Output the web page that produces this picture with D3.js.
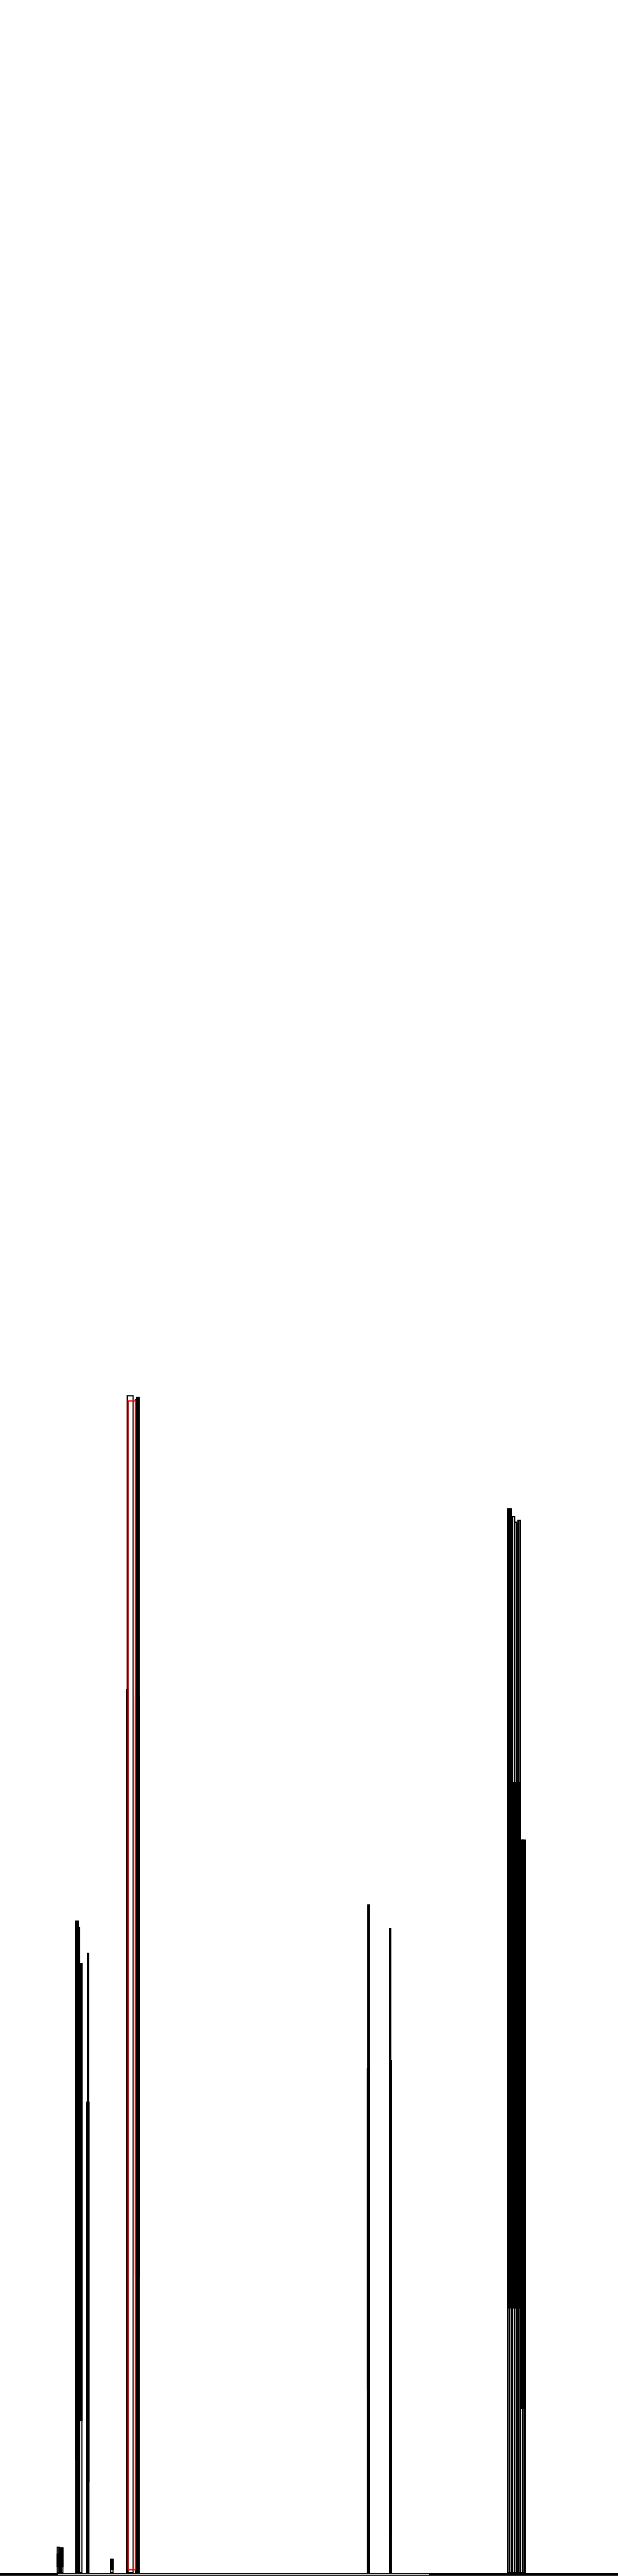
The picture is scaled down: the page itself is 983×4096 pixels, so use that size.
<!DOCTYPE html>
<html>
<head>
<meta charset="utf-8">
<script src="https://cdn.jsdelivr.net/npm/d3@7"></script>
<style>
html,body{margin:0;padding:0;background:#fff;}
svg{display:block;}
</style>
</head>
<body>
<script>
// ---- data (reference units) ----
const binStart = [133,142,177.5,182,186,204.5,202,258,297,295.5,315,319.5,857.5,855.5,908.2,907,1183,1187.5,1194,1198.5,1203,1207.5,1213,1218];
const binEnd   = [138,147,182,186,191,206.5,207,263,310,298,319,323.5,859.5,861,909.8,911,1187.5,1192,1198.5,1203,1207.5,1212,1218,1223];
const totals   = [59,58,1518,1503,1418,1443,1096,31,2742,2057,2733,2738,1555,1173,1500,1193,2478,2478,2461,2447,2444,2451,1707,1707];
const denseHi  = [43,58,1518,1423,1418,1443,1096,31,null,2057,2040,2040,1555,1173,1500,1193,2478,2478,1841,1841,1841,1841,1707,1707];
const denseLo  = [13,13,263,353,353,1096,212,6,null,0,690,690,1173,428,1193,93,616,616,616,616,616,616,382,382];

const highlightStart = [298.5];
const highlightEnd   = [315.5];
const highlightHi    = [2730];
const highlightLo    = [7];

const xDomain = [0,1440];
const yDomain = [0,5993];

// ---- layout ----
const W = 983, H = 4096, k = W/1440;
const SW = 3.2;
const svg = d3.select("body").append("svg").attr("width",W).attr("height",H);
svg.append("rect").attr("width",W).attr("height",H).attr("fill","#fff");

const x = d3.scaleLinear().domain(xDomain).range([0,W]);
const y = d3.scaleLinear().domain(yDomain).range([yDomain[1]*k,0]);

const bars = binStart.map((s,i)=>({s, e:binEnd[i], v:totals[i], hi:denseHi[i], lo:denseLo[i]}));

// outlines
svg.append("g").selectAll("rect").data(bars).join("rect")
  .attr("x",d=>x(d.s)).attr("width",d=>x(d.e)-x(d.s))
  .attr("y",d=>y(d.v)).attr("height",d=>y(0)-y(d.v))
  .attr("fill","none").attr("stroke","#000").attr("stroke-width",SW*k);

// dense (solid) segments
svg.append("g").selectAll("rect").data(bars.filter(d=>d.hi!==null)).join("rect")
  .attr("x",d=>x(d.s)-SW/2*k).attr("width",d=>x(d.e)-x(d.s)+SW*k)
  .attr("y",d=>y(d.hi)-SW/2*k).attr("height",d=>y(d.lo)-y(d.hi)+SW/2*k)
  .attr("fill","#000");

// highlighted bar
const hl = highlightStart.map((s,i)=>({s,e:highlightEnd[i],hi:highlightHi[i],lo:highlightLo[i]}));
svg.append("g").selectAll("rect").data(hl).join("rect")
  .attr("x",d=>x(d.s)).attr("width",d=>x(d.e)-x(d.s))
  .attr("y",d=>y(d.hi)).attr("height",d=>y(d.lo)-y(d.hi))
  .attr("fill","none").attr("stroke","#ff0000").attr("stroke-width",3.5*k);

// baseline axis
svg.append("rect").attr("x",x(xDomain[0])).attr("width",x(xDomain[1])-x(xDomain[0]))
  .attr("y",y(0)).attr("height",7*k).attr("fill","#000");
svg.append("line").attr("x1",x(135)).attr("x2",x(1000))
  .attr("y1",y(0)+3.5*k).attr("y2",y(0)+3.5*k)
  .attr("stroke","#fff").attr("stroke-width",1.2*k);
</script>
</body>
</html>
